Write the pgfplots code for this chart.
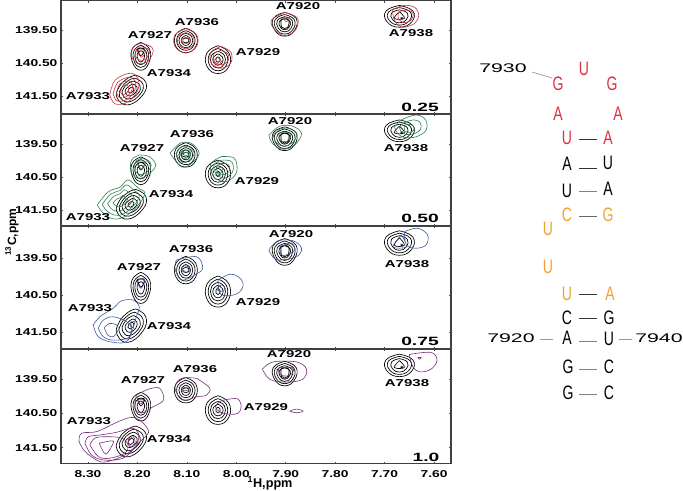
\documentclass[border=0pt]{standalone}
\usepackage{fontspec}
\setmainfont{Liberation Sans}
\usepackage{pgfplots}
\usepackage{pgfplotstable}
\pgfplotsset{compat=1.18}
\definecolor{cred}{HTML}{C9323C}
\definecolor{cgreen}{HTML}{2F7F55}
\definecolor{cblue}{HTML}{3D5A9E}
\definecolor{cpurple}{HTML}{7B2D7B}
\definecolor{rnared}{HTML}{D9303F}
\definecolor{rnaora}{HTML}{F0A030}
\newcommand\wlab[1]{\scalebox{1.38}[1]{\bfseries\fontsize{7.5}{8}\selectfont #1}}
\newcommand\plab[1]{\scalebox{1.5}[1]{\bfseries\fontsize{7.5}{8}\selectfont #1}}
\newcommand\frlab[1]{\scalebox{1.6}[1]{\bfseries\fontsize{9}{10}\selectfont #1}}
\newcommand\numlab[1]{\scalebox{1.7}[1]{\fontsize{9.4}{10}\selectfont #1}}
\newcommand\nt[1]{\scalebox{.72}[1]{\fontsize{14.6}{15}\selectfont #1}}
% reference (black) spectrum, shared by all panels
\pgfplotstableread[row sep=\\]{x y\\
8.193 139.88\\ 8.175 140.09\\ 8.177 140.51\\ 8.193 140.72\\ 8.209 140.51\\ 8.211 140.09\\ 8.193 139.88\\ nan nan\\
8.193 139.964\\ 8.179 140.132\\ 8.180 140.468\\ 8.193 140.636\\ 8.206 140.468\\ 8.207 140.132\\ 8.193 139.964\\ nan nan\\
8.193 140.05\\ 8.182 140.17\\ 8.183 140.43\\ 8.193 140.55\\ 8.203 140.43\\ 8.204 140.17\\ 8.193 140.05\\ nan nan\\
8.193 140.13\\ 8.186 140.22\\ 8.187 140.38\\ 8.193 140.47\\ 8.199 140.38\\ 8.200 140.22\\ 8.193 140.13\\ nan nan\\
8.200 140.07\\ 8.186 140.07\\ 8.193 140.28\\ 8.200 140.07\\ nan nan\\
8.102 139.45\\ 8.082 139.635\\ 8.082 140.005\\ 8.102 140.19\\ 8.122 140.005\\ 8.122 139.635\\ 8.102 139.45\\ nan nan\\
8.102 139.524\\ 8.086 139.672\\ 8.086 139.968\\ 8.102 140.116\\ 8.118 139.968\\ 8.118 139.672\\ 8.102 139.524\\ nan nan\\
8.102 139.60\\ 8.090 139.71\\ 8.090 139.93\\ 8.102 140.04\\ 8.114 139.93\\ 8.114 139.71\\ 8.102 139.60\\ nan nan\\
8.102 139.67\\ 8.094 139.746\\ 8.094 139.894\\ 8.102 139.97\\ 8.110 139.894\\ 8.110 139.746\\ 8.102 139.67\\ nan nan\\
8.102 139.75\\ 8.096 139.78\\ 8.096 139.86\\ 8.102 139.89\\ 8.108 139.86\\ 8.108 139.78\\ 8.102 139.75\\ nan nan\\
8.037 139.98\\ 8.015 140.19\\ 8.015 140.61\\ 8.037 140.82\\ 8.059 140.61\\ 8.059 140.19\\ 8.037 139.98\\ nan nan\\
8.037 140.064\\ 8.020 140.232\\ 8.020 140.568\\ 8.037 140.736\\ 8.054 140.568\\ 8.054 140.232\\ 8.037 140.064\\ nan nan\\
8.037 140.148\\ 8.024 140.274\\ 8.024 140.526\\ 8.037 140.652\\ 8.050 140.526\\ 8.050 140.274\\ 8.037 140.148\\ nan nan\\
8.037 140.23\\ 8.028 140.32\\ 8.028 140.48\\ 8.037 140.57\\ 8.046 140.48\\ 8.046 140.32\\ 8.037 140.23\\ nan nan\\
8.037 140.32\\ 8.033 140.36\\ 8.033 140.44\\ 8.037 140.48\\ 8.041 140.44\\ 8.041 140.36\\ 8.037 140.32\\ nan nan\\
7.902 138.97\\ 7.879 139.15\\ 7.882 139.51\\ 7.902 139.69\\ 7.922 139.51\\ 7.925 139.15\\ 7.902 138.97\\ nan nan\\
7.902 139.035\\ 7.883 139.182\\ 7.885 139.478\\ 7.902 139.625\\ 7.919 139.478\\ 7.921 139.182\\ 7.902 139.035\\ nan nan\\
7.902 139.10\\ 7.887 139.215\\ 7.889 139.445\\ 7.902 139.56\\ 7.915 139.445\\ 7.917 139.215\\ 7.902 139.10\\ nan nan\\
7.902 139.164\\ 7.891 139.247\\ 7.893 139.413\\ 7.902 139.496\\ 7.911 139.413\\ 7.913 139.247\\ 7.902 139.164\\ nan nan\\
7.909 139.18\\ 7.895 139.18\\ 7.896 139.42\\ 7.908 139.42\\ 7.909 139.18\\ nan nan\\
7.670 138.76\\ 7.643 138.925\\ 7.645 139.255\\ 7.670 139.42\\ 7.695 139.255\\ 7.697 138.925\\ 7.670 138.76\\ nan nan\\
7.670 138.826\\ 7.648 138.958\\ 7.650 139.222\\ 7.670 139.354\\ 7.690 139.222\\ 7.692 138.958\\ 7.670 138.826\\ nan nan\\
7.670 138.892\\ 7.654 138.991\\ 7.656 139.189\\ 7.670 139.288\\ 7.684 139.189\\ 7.686 138.991\\ 7.670 138.892\\ nan nan\\
7.670 138.95\\ 7.660 139.15\\ 7.680 139.15\\ 7.670 138.95\\ nan nan\\
7.667 139.12\\ 7.664 139.12\\ 7.664 139.15\\ 7.667 139.15\\ 7.667 139.12\\ nan nan\\
8.203 140.87\\ 8.183 141.08\\ 8.189 141.47\\ 8.219 141.77\\ 8.241 141.56\\ 8.237 141.23\\ 8.219 140.96\\ 8.203 140.87\\ nan nan\\
8.205 140.96\\ 8.189 141.13\\ 8.194 141.44\\ 8.218 141.68\\ 8.236 141.51\\ 8.232 141.25\\ 8.218 141.03\\ 8.205 140.96\\ nan nan\\
8.207 141.05\\ 8.195 141.18\\ 8.198 141.41\\ 8.217 141.59\\ 8.230 141.46\\ 8.228 141.27\\ 8.217 141.10\\ 8.207 141.05\\ nan nan\\
8.209 141.14\\ 8.201 141.22\\ 8.203 141.38\\ 8.215 141.50\\ 8.224 141.42\\ 8.223 141.28\\ 8.215 141.18\\ 8.209 141.14\\ nan nan\\
8.211 141.23\\ 8.207 141.27\\ 8.208 141.35\\ 8.214 141.41\\ 8.219 141.37\\ 8.218 141.30\\ 8.214 141.25\\ 8.211 141.23\\
}\blk
% 0.25
\pgfplotstableread[row sep=\\]{x y\\
8.256 141.47\\ 8.245 141.02\\ 8.215 140.81\\ 8.199 140.96\\ 8.199 141.32\\ 8.219 141.68\\ 8.245 141.74\\ 8.256 141.47\\ nan nan\\
8.249 141.44\\ 8.240 141.09\\ 8.217 140.93\\ 8.205 141.04\\ 8.205 141.32\\ 8.221 141.60\\ 8.241 141.65\\ 8.249 141.44\\ nan nan\\
8.242 141.40\\ 8.236 141.15\\ 8.219 141.04\\ 8.211 141.12\\ 8.211 141.32\\ 8.222 141.52\\ 8.236 141.55\\ 8.242 141.40\\ nan nan\\
8.234 141.36\\ 8.231 141.23\\ 8.222 141.17\\ 8.218 141.21\\ 8.218 141.32\\ 8.223 141.43\\ 8.231 141.45\\ 8.234 141.36\\ nan nan\\
8.192 139.90\\ 8.171 140.02\\ 8.169 140.21\\ 8.181 140.48\\ 8.199 140.51\\ 8.211 140.33\\ 8.209 140.03\\ 8.192 139.90\\ nan nan\\
8.191 140.01\\ 8.177 140.09\\ 8.176 140.21\\ 8.184 140.39\\ 8.196 140.41\\ 8.204 140.29\\ 8.202 140.09\\ 8.191 140.01\\ nan nan\\
8.201 140.12\\ 8.183 140.12\\ 8.192 140.33\\ 8.201 140.12\\ nan nan\\
8.102 139.46\\ 8.080 139.65\\ 8.080 140.0\\ 8.102 140.20\\ 8.124 140.0\\ 8.124 139.65\\ 8.102 139.46\\ nan nan\\
8.102 139.58\\ 8.087 139.70\\ 8.087 139.95\\ 8.102 140.07\\ 8.117 139.95\\ 8.117 139.70\\ 8.102 139.58\\ nan nan\\
8.102 139.73\\ 8.093 139.78\\ 8.093 139.86\\ 8.102 139.91\\ 8.111 139.86\\ 8.111 139.78\\ 8.102 139.73\\ nan nan\\
8.031 140.0\\ 8.011 140.17\\ 8.011 140.5\\ 8.031 140.66\\ 8.051 140.5\\ 8.051 140.17\\ 8.031 140.0\\ nan nan\\
8.031 140.12\\ 8.017 140.22\\ 8.017 140.45\\ 8.031 140.55\\ 8.045 140.45\\ 8.045 140.22\\ 8.031 140.12\\ nan nan\\
8.038 140.33\\ 8.030 140.45\\ 8.038 140.57\\ 8.046 140.45\\ 8.038 140.33\\ nan nan\\
7.902 138.97\\ 7.876 139.14\\ 7.880 139.50\\ 7.902 139.67\\ 7.922 139.50\\ 7.929 139.21\\ 7.902 138.97\\ nan nan\\
7.905 139.12\\ 7.892 139.12\\ 7.899 139.25\\ 7.905 139.12\\ nan nan\\
7.684 138.88\\ 7.660 138.76\\ 7.639 138.82\\ 7.631 139.06\\ 7.639 139.30\\ 7.664 139.42\\ 7.680 139.21\\ 7.684 138.88\\ nan nan\\
7.672 138.96\\ 7.658 138.90\\ 7.646 138.94\\ 7.642 139.06\\ 7.648 139.22\\ 7.662 139.28\\ 7.672 139.15\\ 7.672 138.96\\
}\pA
% 0.50
\pgfplotstableread[row sep=\\]{x y\\
8.281 141.34\\ 8.259 140.94\\ 8.235 140.80\\ 8.219 140.58\\ 8.198 140.83\\ 8.185 140.98\\ 8.198 141.34\\ 8.225 141.69\\ 8.249 141.76\\ 8.269 141.59\\ 8.281 141.34\\ nan nan\\
8.271 141.32\\ 8.254 141.01\\ 8.235 140.90\\ 8.222 140.73\\ 8.205 140.92\\ 8.196 141.04\\ 8.205 141.32\\ 8.227 141.60\\ 8.246 141.65\\ 8.262 141.52\\ 8.271 141.32\\ nan nan\\
8.260 141.30\\ 8.248 141.08\\ 8.235 141.00\\ 8.226 140.88\\ 8.214 141.01\\ 8.207 141.10\\ 8.214 141.30\\ 8.230 141.49\\ 8.243 141.53\\ 8.254 141.44\\ 8.260 141.30\\ nan nan\\
8.249 141.28\\ 8.242 141.16\\ 8.235 141.12\\ 8.230 141.05\\ 8.224 141.12\\ 8.220 141.17\\ 8.224 141.28\\ 8.232 141.38\\ 8.239 141.40\\ 8.245 141.35\\ 8.249 141.28\\ nan nan\\
8.195 139.82\\ 8.175 139.88\\ 8.163 140.13\\ 8.175 140.38\\ 8.195 140.53\\ 8.212 140.38\\ 8.212 139.98\\ 8.195 139.82\\ nan nan\\
8.193 139.93\\ 8.180 139.97\\ 8.172 140.13\\ 8.180 140.33\\ 8.193 140.42\\ 8.204 140.32\\ 8.204 140.04\\ 8.193 139.93\\ nan nan\\
8.202 140.02\\ 8.184 140.02\\ 8.192 140.25\\ 8.202 140.02\\ nan nan\\
8.134 139.77\\ 8.114 139.47\\ 8.091 139.47\\ 8.075 139.77\\ 8.091 140.08\\ 8.111 140.18\\ 8.134 139.77\\ nan nan\\
8.122 139.78\\ 8.111 139.58\\ 8.095 139.58\\ 8.085 139.78\\ 8.095 139.98\\ 8.109 140.05\\ 8.122 139.78\\ nan nan\\
8.114 139.79\\ 8.108 139.68\\ 8.097 139.68\\ 8.092 139.79\\ 8.097 139.90\\ 8.108 139.92\\ 8.114 139.79\\ nan nan\\
8.110 139.76\\ 8.100 139.74\\ 8.095 139.78\\ 8.102 139.85\\ 8.110 139.76\\ nan nan\\
8.030 139.87\\ 8.006 139.90\\ 7.999 140.10\\ 8.001 140.40\\ 8.020 140.63\\ 8.045 140.50\\ 8.052 140.10\\ 8.030 139.87\\ nan nan\\
8.030 139.98\\ 8.012 140.0\\ 8.006 140.15\\ 8.008 140.35\\ 8.022 140.52\\ 8.040 140.42\\ 8.045 140.12\\ 8.030 139.98\\ nan nan\\
8.030 140.08\\ 8.018 140.10\\ 8.013 140.20\\ 8.015 140.33\\ 8.025 140.42\\ 8.037 140.35\\ 8.040 140.17\\ 8.030 140.08\\ nan nan\\
8.040 140.22\\ 8.028 140.22\\ 8.035 140.45\\ 8.040 140.22\\ nan nan\\
7.934 139.22\\ 7.912 138.95\\ 7.886 138.95\\ 7.868 139.17\\ 7.882 139.52\\ 7.906 139.65\\ 7.927 139.47\\ 7.934 139.22\\ nan nan\\
7.925 139.22\\ 7.910 139.03\\ 7.890 139.03\\ 7.877 139.20\\ 7.888 139.47\\ 7.905 139.56\\ 7.920 139.43\\ 7.925 139.22\\ nan nan\\
7.912 139.15\\ 7.895 139.15\\ 7.890 139.25\\ 7.897 139.40\\ 7.908 139.40\\ 7.914 139.28\\ 7.912 139.15\\ nan nan\\
7.680 138.97\\ 7.666 138.76\\ 7.636 138.61\\ 7.617 138.76\\ 7.616 139.07\\ 7.636 139.27\\ 7.660 139.29\\ 7.674 139.16\\ 7.680 138.97\\ nan nan\\
7.670 138.97\\ 7.660 138.84\\ 7.640 138.76\\ 7.628 138.84\\ 7.627 139.04\\ 7.640 139.18\\ 7.657 139.20\\ 7.667 139.10\\ 7.670 138.97\\ nan nan\\
7.660 138.92\\ 7.647 138.90\\ 7.640 139.0\\ 7.645 139.12\\ 7.658 139.12\\ 7.660 138.92\\
}\pB
% 0.75
\pgfplotstableread[row sep=\\]{x y\\
8.289 141.30\\ 8.276 141.08\\ 8.249 140.85\\ 8.232 140.65\\ 8.208 140.63\\ 8.196 140.81\\ 8.202 141.08\\ 8.219 141.71\\ 8.249 141.77\\ 8.279 141.62\\ 8.289 141.30\\ nan nan\\
8.279 141.39\\ 8.269 141.17\\ 8.249 141.08\\ 8.222 141.21\\ 8.212 141.39\\ 8.219 141.65\\ 8.249 141.71\\ 8.269 141.62\\ 8.279 141.39\\ nan nan\\
8.267 141.37\\ 8.256 141.26\\ 8.242 141.30\\ 8.239 141.44\\ 8.249 141.62\\ 8.260 141.57\\ 8.267 141.37\\ nan nan\\
8.214 141.22\\ 8.205 141.22\\ 8.210 141.37\\ 8.214 141.22\\ nan nan\\
8.202 140.09\\ 8.185 140.09\\ 8.193 140.31\\ 8.202 140.09\\ nan nan\\
8.121 139.55\\ 8.080 139.46\\ 8.068 139.77\\ 8.084 139.95\\ 8.111 140.09\\ 8.124 139.77\\ 8.121 139.55\\ nan nan\\
8.111 139.77\\ 8.104 139.70\\ 8.094 139.77\\ 8.101 139.88\\ 8.111 139.77\\ nan nan\\
8.037 140.09\\ 8.013 139.93\\ 7.996 140.0\\ 7.986 140.18\\ 7.993 140.41\\ 8.013 140.51\\ 8.033 140.45\\ 8.037 140.09\\ nan nan\\
8.040 140.33\\ 8.030 140.22\\ 8.022 140.32\\ 8.032 140.40\\ 8.040 140.33\\ nan nan\\
7.934 139.28\\ 7.916 139.03\\ 7.885 139.03\\ 7.868 139.23\\ 7.878 139.46\\ 7.912 139.55\\ 7.926 139.46\\ 7.934 139.28\\ nan nan\\
7.912 139.19\\ 7.889 139.09\\ 7.882 139.28\\ 7.899 139.41\\ 7.909 139.41\\ 7.912 139.19\\ nan nan\\
7.660 138.78\\ 7.633 138.69\\ 7.613 138.87\\ 7.616 139.14\\ 7.636 139.23\\ 7.656 139.14\\ 7.660 138.78\\ nan nan\\
7.666 138.87\\ 7.683 139.19\\ 7.656 139.19\\ 7.666 138.87\\
}\pC
% 1.0
\pgfplotstableread[row sep=\\]{x y\\
8.318 141.32\\ 8.313 141.08\\ 8.282 141.03\\ 8.245 140.78\\ 8.215 140.62\\ 8.195 140.69\\ 8.178 140.98\\ 8.181 141.13\\ 8.198 141.37\\ 8.219 141.66\\ 8.249 141.86\\ 8.276 141.91\\ 8.306 141.61\\ 8.318 141.32\\ nan nan\\
8.306 141.37\\ 8.299 141.18\\ 8.276 141.13\\ 8.242 141.05\\ 8.212 140.93\\ 8.198 141.08\\ 8.202 141.42\\ 8.229 141.81\\ 8.269 141.86\\ 8.293 141.71\\ 8.306 141.37\\ nan nan\\
8.296 141.42\\ 8.286 141.22\\ 8.262 141.18\\ 8.232 141.22\\ 8.219 141.42\\ 8.225 141.66\\ 8.256 141.81\\ 8.279 141.76\\ 8.296 141.42\\ nan nan\\
8.277 141.37\\ 8.252 141.30\\ 8.249 141.37\\ 8.264 141.69\\ 8.277 141.37\\ nan nan\\
8.219 141.27\\ 8.208 141.18\\ 8.205 141.37\\ 8.215 141.47\\ 8.219 141.27\\ nan nan\\
8.202 139.96\\ 8.178 139.79\\ 8.155 139.76\\ 8.147 140.10\\ 8.168 140.30\\ 8.192 140.49\\ 8.205 140.35\\ 8.202 139.96\\ nan nan\\
8.200 140.10\\ 8.187 140.10\\ 8.194 140.22\\ 8.200 140.10\\ nan nan\\
8.080 139.47\\ 8.054 139.75\\ 8.060 139.96\\ 8.080 140.01\\ 8.107 140.10\\ 8.124 139.76\\ 8.111 139.47\\ 8.080 139.47\\ nan nan\\
8.111 139.76\\ 8.094 139.72\\ 8.097 139.81\\ 8.107 139.83\\ 8.111 139.76\\ nan nan\\
8.030 140.12\\ 8.010 140.07\\ 7.996 140.08\\ 7.990 140.30\\ 7.996 140.49\\ 8.013 140.52\\ 8.032 140.46\\ 8.042 140.30\\ 8.030 140.12\\ nan nan\\
7.892 140.43\\ 7.878 140.37\\ 7.865 140.43\\ 7.878 140.48\\ 7.892 140.43\\ nan nan\\
7.947 139.20\\ 7.926 138.99\\ 7.878 138.99\\ 7.858 139.20\\ 7.866 139.50\\ 7.900 139.58\\ 7.932 139.50\\ 7.947 139.20\\ nan nan\\
7.914 139.17\\ 7.892 139.14\\ 7.884 139.22\\ 7.890 139.37\\ 7.905 139.40\\ 7.914 139.28\\ 7.914 139.17\\ nan nan\\
7.650 138.77\\ 7.606 138.71\\ 7.594 138.94\\ 7.606 139.20\\ 7.629 139.28\\ 7.643 139.13\\ 7.650 138.77\\ nan nan\\
7.633 138.86\\ 7.626 138.86\\ 7.629 138.91\\ 7.633 138.86\\
}\pD
\pgfplotsset{panel/.style={
  scale only axis, width=292.5pt,
  xmin=7.5657, xmax=8.3545, x dir=reverse, y dir=reverse,
  axis line style={draw=black!75, line width=.8pt},
  unbounded coords=jump,
  xtick={7.6,7.7,7.8,7.9,8.0,8.1,8.2,8.3},
  ytick={139.5,140.5,141.5},
  minor y tick num=1,
  tick align=inside, major tick length=1.5pt, minor tick length=1pt,
  tick style={black!70, line width=.4pt},
  yticklabels={\wlab{139.50},\wlab{140.50},\wlab{141.50}},
  xticklabels={},
  yticklabel style={inner sep=0pt, xshift=-2.5pt},
  clip=true,
}}
\begin{document}
\begin{tikzpicture}[x=0.75pt,y=-0.75pt]
\path[use as bounding box] (0,0) rectangle (683,490);
\begin{axis}[panel, at={(45.75pt,-0.375pt)}, anchor=north west, height=84.75pt, ymin=138.61, ymax=142.03]
\addplot[black, line width=.5pt, smooth, tension=.8] table[x=x,y=y] {\blk};
\addplot[cred, line width=.45pt, smooth, tension=.6] table[x=x,y=y] {\pA};
\end{axis}
\begin{axis}[panel, at={(45.75pt,-85.5pt)}, anchor=north west, height=83.8pt, ymin=138.58, ymax=141.97]
\addplot[black, line width=.5pt, smooth, tension=.8] table[x=x,y=y] {\blk};
\addplot[cgreen, line width=.45pt, smooth, tension=.6] table[x=x,y=y] {\pB};
\end{axis}
\begin{axis}[panel, at={(45.75pt,-169.5pt)}, anchor=north west, height=92.25pt, ymin=138.63, ymax=141.95]
\addplot[black, line width=.5pt, smooth, tension=.8] table[x=x,y=y] {\blk};
\addplot[cblue, line width=.45pt, smooth, tension=.6] table[x=x,y=y] {\pC};
\end{axis}
\begin{axis}[panel, at={(45.75pt,-261.75pt)}, anchor=north west, height=86pt, ymin=138.61, ymax=141.97,
  xticklabels={\wlab{7.60},\wlab{7.70},\wlab{7.80},\wlab{7.90},\wlab{8.00},\wlab{8.10},\wlab{8.20},\wlab{8.30}},
  xticklabel style={inner sep=0pt, yshift=-5pt}]
\addplot[black, line width=.5pt, smooth, tension=.8] table[x=x,y=y] {\blk};
\addplot[cpurple, line width=.45pt, smooth, tension=.6] table[x=x,y=y] {\pD};
\end{axis}
% peak labels
\foreach \px/\py/\tx in {197/22/A7936,150/35/A7927,169/73/A7934,88/96/A7933,298/6/A7920,411/33/A7938,258/52/A7929,
  192/134/A7936,142/148/A7927,171/194/A7934,88/217/A7933,290/121/A7920,406/148/A7938,257/181/A7929,
  191/249/A7936,139/267/A7927,90/308/A7933,169/326/A7934,291/234/A7920,407/264/A7938,258/302/A7929,
  195/369/A7936,143/380/A7927,89/421/A7933,169/439/A7934,289/354/A7920,407/383/A7938,266/407/A7929}
  \node[inner sep=0pt] at (\px,\py) {\plab{\tx}};
\node[inner sep=0pt] at (420,107) {\frlab{0.25}};
\node[inner sep=0pt] at (420,218) {\frlab{0.50}};
\node[inner sep=0pt] at (420,341) {\frlab{0.75}};
\node[inner sep=0pt] at (426,457) {\frlab{1.0}};
\node[inner sep=0pt] at (270,483) {\bfseries\fontsize{9.5}{10}\selectfont \textsuperscript{1}H,ppm};
\node[inner sep=0pt, rotate=90] at (12,232) {\bfseries\fontsize{9}{9}\selectfont \textsuperscript{13}C,ppm};
% RNA secondary structure
\foreach \px/\py/\tx in {558/84/G,584/69/U,612/84/G,558/114/A,618/114/A,567/138/U,608/138/A}
  \node[inner sep=0pt, text=rnared] at (\px,\py) {\nt{\tx}};
\foreach \px/\py/\tx in {567/215/C,608/215/G,548/229/U,548/267/U,567/294/U,610/294/A}
  \node[inner sep=0pt, text=rnaora] at (\px,\py) {\nt{\tx}};
\foreach \px/\py/\tx in {567/164/A,608/163/U,567/191/U,608/189/A,567/318/C,609/318/G,567/338/A,609/339/U,568/367/G,609/367/C,568/393/G,609/393/C}
  \node[inner sep=0pt, text=black] at (\px,\py) {\nt{\tx}};
\foreach \py/\col in {139/black!80,168/black!80,191/black!50,216/black!60,294/black!80,318/black!80,341/black!50,369/black!50,394/black!50}
  \draw[\col, line width=.5pt] (579,\py) -- (597,\py);
\draw[black!50, line width=.4pt] (532,72) -- (552,78);
\draw[black!40, line width=.5pt] (540,339) -- (553,339);
\draw[black!40, line width=.5pt] (619,339) -- (632,339);
\node[inner sep=0pt] at (503,68) {\numlab{7930}};
\node[inner sep=0pt] at (511,338) {\numlab{7920}};
\node[inner sep=0pt] at (659,338) {\numlab{7940}};
\end{tikzpicture}
\end{document}
